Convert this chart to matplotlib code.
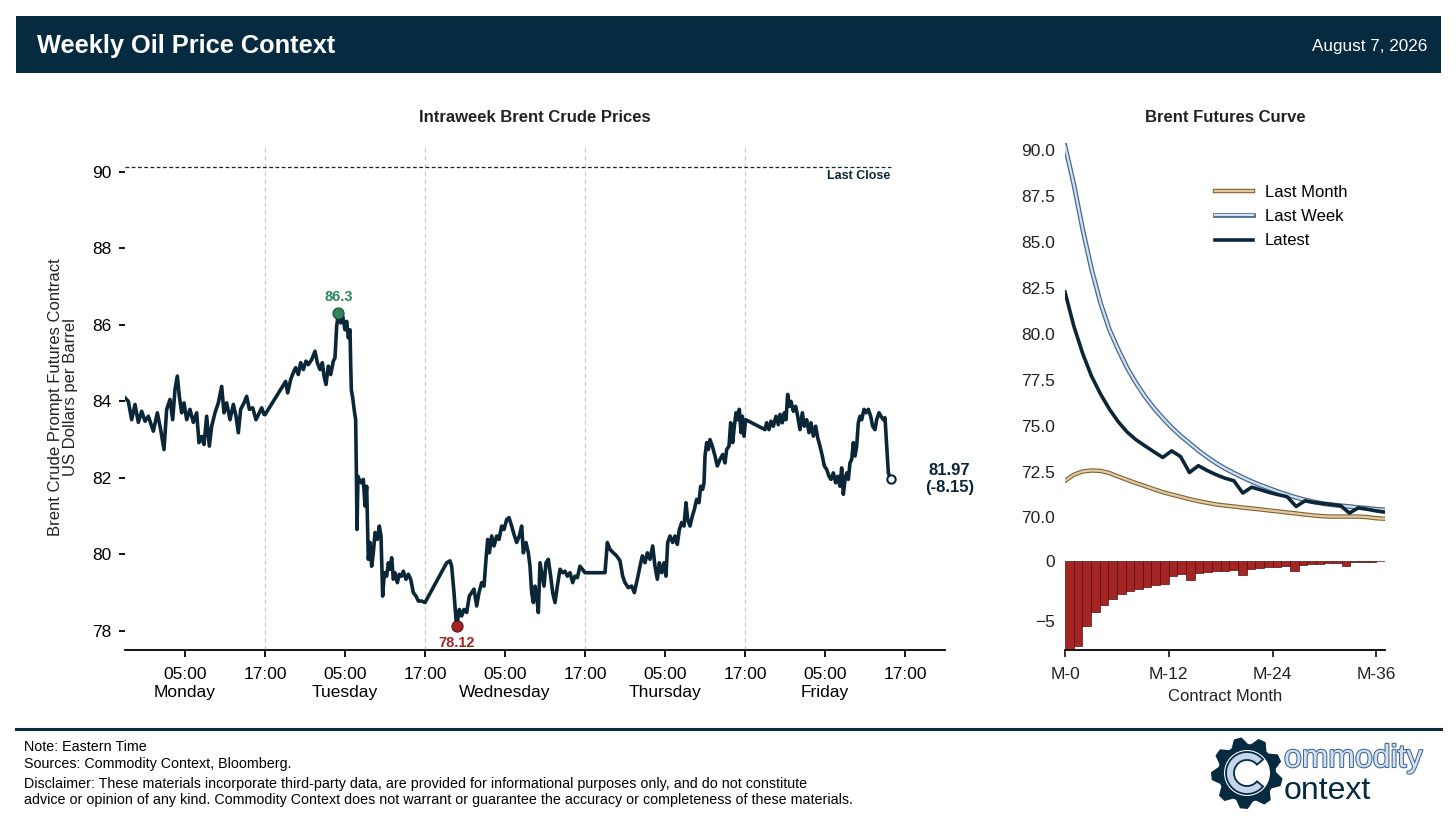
import numpy as np
import matplotlib
matplotlib.use('Agg')
import matplotlib.pyplot as plt
import matplotlib.patheffects as pe
from matplotlib.patches import Rectangle, Polygon, Circle, Wedge
from matplotlib.lines import Line2D

plt.rcParams['font.family'] = ['Liberation Sans', 'DejaVu Sans']
plt.rcParams['axes.unicode_minus'] = True

W, H = 1456, 831
NAVY = '#0b2637'
HEADER = '#062a40'
GREEN = '#2e8659'
RED = '#a52525'

# ---------------- data ----------------
# intraweek Brent prompt price: hours since Monday 00:00 (Eastern) and price (USD/bbl)
hours = [-4.0, -3.5, -3.0, -2.5, -2.0, -1.5, -1.0, -0.5, 0.25, 0.85, 1.35, 1.85, 2.25, 2.75, 3.15, 3.5,
         3.85, 4.15, 4.5, 4.85, 5.25, 5.75, 6.25, 6.75, 7.1, 7.5, 7.85, 8.25, 8.65, 9.0, 9.5, 10.0,
         10.5, 10.85, 11.25, 11.75, 12.25, 12.65, 13.0, 13.35, 13.85, 14.25, 14.65, 15.15, 15.65, 16.15,
         16.5, 16.85, 17.0,
         20.1, 20.4, 20.85, 21.25, 21.6, 22.0, 22.35, 22.75, 23.15, 23.5, 24.0, 24.5, 24.85, 25.25, 25.6,
         25.85, 26.15, 26.5, 26.85, 27.25, 27.5, 27.75, 28.0, 28.35, 28.65, 29.0, 29.25, 29.5, 29.75,
         29.85, 29.95, 30.15, 30.4, 30.6, 30.7, 30.8, 30.95, 31.25, 31.5, 31.75, 32.0, 32.25, 32.5, 32.75,
         33.0, 33.25, 33.5, 33.85, 34.15, 34.4, 34.65, 34.9, 35.25, 35.5, 35.75, 36.0, 36.25, 36.5, 36.85,
         37.15, 37.5, 37.75, 38.15, 38.5, 38.85, 39.25, 39.65, 40.0, 40.5, 41.0,
         44.25, 44.75, 45.0, 45.35, 45.65, 45.75, 46.15, 46.5, 46.85, 47.25, 47.65, 48.0, 48.35, 48.75,
         49.1, 49.5, 49.85, 50.15, 50.4, 50.65, 51.0, 51.35, 51.75, 52.1, 52.5, 52.85, 53.25, 53.6, 54.0,
         54.35, 54.75, 55.15, 55.5, 55.75, 56.15, 56.5, 56.75, 57.0, 57.25, 57.5, 57.75, 58.0, 58.25,
         58.5, 58.85, 59.15, 59.5, 59.85, 60.15, 60.5, 60.85, 61.25, 61.65, 62.0, 62.35, 62.75, 63.15,
         63.5, 63.85, 64.25, 64.6, 65.0,
         68.0, 68.35, 68.75, 69.25, 69.75, 70.25, 70.65, 71.0, 71.5, 72.0, 72.4, 72.85, 73.25, 73.6, 74.0,
         74.35, 74.75, 75.15, 75.5, 75.85, 76.15, 76.5, 76.85, 77.15, 77.4, 77.75, 78.15, 78.5, 78.85,
         79.15, 79.5, 79.85, 80.15, 80.4, 80.75, 81.1, 81.4, 81.75, 82.1, 82.35, 82.65, 82.85, 83.0,
         83.25, 83.5, 83.75, 84.1, 84.5, 84.85, 85.25, 85.65, 86.0, 86.25, 86.6, 86.85, 87.15, 87.4,
         87.65, 87.9, 88.15, 88.4, 88.6, 88.85, 89.1,
         92.0, 92.25, 92.6, 92.9, 93.25, 93.65, 94.0, 94.25, 94.6, 94.9, 95.15, 95.4, 95.65, 95.9, 96.25,
         96.6, 96.9, 97.25, 97.6, 97.9, 98.25, 98.6, 98.9, 99.25, 99.6, 99.9, 100.25, 100.6, 100.9,
         101.25, 101.6, 101.9, 102.25, 102.6, 102.9, 103.25, 103.5, 103.75, 104.0, 104.25, 104.5, 104.75,
         105.0, 105.25, 105.5, 105.75, 106.0, 106.25, 106.5, 106.85, 107.15, 107.5, 107.85, 108.15,
         108.5, 108.75, 109.1, 109.4, 109.75, 110.0, 110.25, 110.5, 110.85]
price = [84.09, 84.00, 83.52, 83.92, 83.45, 83.74, 83.48, 83.61, 83.22, 83.70, 83.26, 82.74, 83.79, 84.05,
         83.52, 84.31, 84.66, 84.13, 83.70, 83.96, 83.52, 83.79, 83.45, 83.70, 82.92, 83.08, 82.87, 83.61,
         82.83, 83.35, 83.70, 83.96, 84.39, 83.70, 83.96, 83.52, 83.92, 83.61, 83.18, 83.79, 83.96, 84.13,
         83.79, 83.83, 83.52, 83.70, 83.83, 83.66, 83.65,
         84.52, 84.22, 84.57, 84.75, 84.88, 84.70, 85.01, 84.83, 85.05, 84.96, 85.09, 85.31, 85.01, 84.83,
         85.01, 84.66, 84.44, 84.92, 84.70, 85.05, 85.14, 85.96, 86.30, 86.05, 86.22, 85.87, 86.09, 85.66,
         85.87, 85.00, 84.30, 84.10, 83.75, 83.52, 82.20, 80.65, 82.04, 81.90, 81.87, 81.96, 81.26, 81.78,
         79.87, 80.31, 79.69, 80.04, 80.57, 80.39, 80.74, 80.48, 78.91, 79.52, 79.43, 79.78, 79.61, 79.91,
         79.35, 79.52, 79.26, 79.48, 79.43, 79.56, 79.35, 79.48, 79.35, 79.00, 78.91, 78.78, 78.78, 78.74,
         79.78, 79.83, 79.69, 79.00, 78.30, 78.12, 78.56, 78.39, 78.56, 78.48, 78.91, 79.00, 79.09, 78.65,
         79.00, 79.26, 79.17, 79.87, 80.39, 80.04, 80.48, 80.22, 80.48, 80.39, 80.74, 80.65, 80.91, 80.96,
         80.74, 80.52, 80.31, 80.48, 80.74, 80.04, 80.31, 80.04, 79.69, 79.00, 78.74, 79.17, 78.91, 78.48,
         79.78, 79.52, 79.17, 79.78, 79.87, 79.43, 79.00, 78.74, 79.17, 79.61, 79.52, 79.56, 79.43, 79.52,
         79.26, 79.43, 79.39, 79.69, 79.61, 79.52,
         79.52, 80.31, 80.13, 80.04, 79.96, 79.83, 79.43, 79.26, 79.13, 79.17, 79.00, 79.35, 79.69, 79.96,
         79.78, 80.04, 79.87, 80.22, 79.69, 79.35, 79.78, 79.52, 79.78, 79.43, 80.31, 80.48, 80.31, 80.48,
         80.26, 80.65, 80.83, 80.74, 81.35, 80.91, 80.74, 81.00, 81.17, 81.44, 81.35, 81.78, 81.70, 81.87,
         82.57, 82.92, 82.74, 83.00, 82.83, 82.57, 82.31, 82.48, 82.61, 82.39, 82.74, 82.83, 83.44, 82.92,
         83.35, 83.70, 83.52, 83.79, 83.18, 83.61, 83.09, 83.52,
         83.26, 83.44, 83.26, 83.48, 83.35, 83.61, 83.39, 83.66, 83.44, 83.70, 83.52, 84.18, 83.87, 84.00,
         83.74, 83.87, 83.61, 83.26, 83.70, 83.35, 83.52, 83.18, 83.44, 83.09, 83.35, 83.05, 82.83, 82.57,
         82.31, 82.22, 82.04, 81.96, 82.13, 81.87, 82.04, 81.78, 82.26, 81.57, 81.96, 82.13, 81.96, 82.39,
         82.48, 82.92, 82.57, 82.83, 83.44, 83.61, 83.52, 83.79, 83.70, 83.79, 83.61, 83.35, 83.26, 83.52,
         83.70, 83.61, 83.52, 83.57, 82.83, 82.13, 81.97]

week_high = (28.0, 86.3)
week_low = (45.75, 78.12)
last_close = 90.12
latest_price = 81.97
weekly_change = -8.15

xtick_hours = [5, 17, 29, 41, 53, 65, 77, 89, 101, 113]
xtick_labels = ['05:00\nMonday', '17:00', '05:00\nTuesday', '17:00', '05:00\nWednesday', '17:00',
                '05:00\nThursday', '17:00', '05:00\nFriday', '17:00']
day_breaks = [17, 41, 65, 89]
ytick_left = [78, 80, 82, 84, 86, 88, 90]

# futures curve
months = list(range(37))
last_month = [72.00, 72.33, 72.51, 72.56, 72.54, 72.42, 72.23, 72.05, 71.87, 71.71, 71.54, 71.38,
              71.25, 71.13, 71.00, 70.89, 70.80, 70.71, 70.65, 70.60, 70.54, 70.49, 70.44, 70.38,
              70.33, 70.27, 70.22, 70.16, 70.11, 70.07, 70.05, 70.05, 70.05, 70.05, 70.02, 69.96, 69.93]
last_week = [90.25, 88.13, 85.68, 83.50, 81.68, 80.23, 79.14, 78.14, 77.32, 76.59, 75.96, 75.41,
             74.90, 74.45, 74.05, 73.65, 73.29, 72.96, 72.67, 72.42, 72.18, 71.96, 71.76, 71.58,
             71.40, 71.24, 71.09, 70.96, 70.85, 70.76, 70.69, 70.64, 70.60, 70.54, 70.51, 70.45, 70.42]
latest = [82.28, 80.41, 78.92, 77.68, 76.72, 75.90, 75.21, 74.65, 74.23, 73.90, 73.58, 73.27,
          73.63, 73.32, 72.45, 72.82, 72.56, 72.33, 72.14, 72.00, 71.33, 71.65, 71.51, 71.36,
          71.24, 71.13, 70.60, 70.91, 70.82, 70.76, 70.71, 70.65, 70.24, 70.53, 70.45, 70.36, 70.29]
weekly_diff = [-8.00, -7.07, -5.39, -4.28, -3.67, -3.18, -2.79, -2.51, -2.32, -2.13, -2.02, -1.88,
               -1.22, -1.10, -1.60, -1.00, -0.91, -0.86, -0.80, -0.75, -1.19, -0.66, -0.58, -0.50,
               -0.47, -0.44, -0.83, -0.33, -0.28, -0.22, -0.19, -0.17, -0.44, -0.11, -0.08, -0.06, -0.03]
curve_yticks = [70.0, 72.5, 75.0, 77.5, 80.0, 82.5, 85.0, 87.5, 90.0]
month_ticks = [0, 12, 24, 36]
month_labels = ['M-0', 'M-12', 'M-24', 'M-36']


def box(x0, y0, x1, y1):
    return [x0 / W, 1 - y1 / H, (x1 - x0) / W, (y1 - y0) / H]


fig = plt.figure(figsize=(W / 100, H / 100), dpi=100)
fig.patch.set_facecolor('white')

# ---------------- header ----------------
fig.add_artist(Rectangle((16 / W, 1 - 73 / H), (1441 - 16) / W, 57 / H, transform=fig.transFigure,
                         facecolor=HEADER, edgecolor='none'))
fig.text(37 / W, 1 - 46 / H, 'Weekly Oil Price Context', color='white', fontsize=18.3,
         fontweight='bold', va='center', ha='left')
fig.text(1427 / W, 1 - 46 / H, 'August 7, 2026', color='white', fontsize=12.3, va='center', ha='right')

# ---------------- left chart ----------------
ax = fig.add_axes(box(125, 145, 945, 650))
for x in day_breaks:
    ax.axvline(x, color='#c8c8c8', lw=0.8, ls=(0, (4, 3)), zorder=0)
ax.hlines(last_close, -4, hours[-1], colors=NAVY, linestyles=(0, (3, 2)), lw=0.9, zorder=1)
ax.annotate('Last Close', (hours[-1], last_close), xytext=(0, -2), textcoords='offset points',
            ha='right', va='top', fontsize=9, fontweight='bold', color=NAVY)
ax.plot(hours, price, color=NAVY, lw=2.6, zorder=3)
ax.plot(*week_high, 'o', ms=8, mfc=GREEN, mec='#1d4d36', mew=0.8, zorder=4)
ax.annotate(f'{week_high[1]}', week_high, xytext=(0, 7), textcoords='offset points', ha='center',
            va='bottom', fontsize=10.5, fontweight='bold', color=GREEN)
ax.plot(*week_low, 'o', ms=8, mfc=RED, mec='#5a1212', mew=0.8, zorder=4)
ax.annotate(f'{week_low[1]:.2f}', week_low, xytext=(0, -7), textcoords='offset points', ha='center',
            va='top', fontsize=10.5, fontweight='bold', color=RED)
ax.plot(hours[-1], latest_price, 'o', ms=6, mfc='white', mec=NAVY, mew=1.5, zorder=5)
ax.annotate(f'{latest_price:.2f}\n({weekly_change:.2f})', (hours[-1], latest_price), xytext=(42.5, 0),
            textcoords='offset points', ha='center', va='center', fontsize=12, fontweight='bold',
            color=NAVY, annotation_clip=False)
ax.set_xlim(-4, 119)
ax.set_ylim(77.5, 90.7)
ax.set_xticks(xtick_hours)
ax.set_xticklabels(xtick_labels)
ax.set_yticks(ytick_left)
for s in ['top', 'right', 'left']:
    ax.spines[s].set_visible(False)
ax.spines['bottom'].set_linewidth(1.3)
ax.spines['bottom'].set_color('black')
ax.tick_params(axis='x', length=5, width=1.3, labelsize=12.5, pad=7.5, colors='black')
ax.tick_params(axis='y', length=4.5, width=1.3, labelsize=12.5, pad=5, colors='black')
ax.set_ylabel('Brent Crude Prompt Futures Contract\nUS Dollars per Barrel', fontsize=12,
              linespacing=1.0, color='#222222')
ax.yaxis.set_label_coords(-0.057, 0.5)
fig.text(535 / W, 1 - 117 / H, 'Intraweek Brent Crude Prices', fontsize=12, fontweight='bold',
         ha='center', va='center', color='#222222')

# ---------------- right upper chart ----------------
ax2 = fig.add_axes(box(1065, 143, 1385, 523))
ax2.plot(months, last_month, color='#e2cba0', lw=1.6, label='Last Month',
         path_effects=[pe.Stroke(linewidth=3.2, foreground='#7d6236'), pe.Normal()])
ax2.plot(months, last_week, color='#d2e1f2', lw=1.6, label='Last Week',
         path_effects=[pe.Stroke(linewidth=3.4, foreground='#46678a'), pe.Normal()])
ax2.plot(months, latest, color=NAVY, lw=2.6, label='Latest')
ax2.set_xlim(0, 36)
ax2.set_ylim(69.7, 90.4)
ax2.set_yticks(curve_yticks)
ax2.set_yticklabels([f'{v:.1f}' for v in curve_yticks])
ax2.set_xticks([])
for s in ax2.spines.values():
    s.set_visible(False)
ax2.tick_params(axis='y', length=0, labelsize=12.5, pad=7, colors='#222222')
ax2.legend(loc='upper left', bbox_to_anchor=(1215 / W, 1 - 185 / H), bbox_transform=fig.transFigure,
           frameon=False, fontsize=12, handlelength=2.3, labelspacing=0.55, handletextpad=0.7,
           borderaxespad=0, borderpad=0)
fig.text(1225 / W, 1 - 117 / H, 'Brent Futures Curve', fontsize=12, fontweight='bold',
         ha='center', va='center', color='#222222')

# ---------------- right lower chart ----------------
ax3 = fig.add_axes(box(1065, 559, 1385, 650))
ax3.bar(months, weekly_diff, width=1.0, align='edge', color=RED, edgecolor='#4e0f0f', lw=0.5)
ax3.set_xlim(0, 37)
ax3.set_ylim(-7.42, 0.17)
ax3.set_yticks([0, -5])
ax3.set_xticks(month_ticks)
ax3.set_xticklabels(month_labels)
for s in ['top', 'right', 'left']:
    ax3.spines[s].set_visible(False)
ax3.spines['bottom'].set_linewidth(1.3)
ax3.tick_params(axis='y', length=0, labelsize=12.5, pad=7, colors='#222222')
ax3.tick_params(axis='x', length=5, width=1.3, labelsize=12.5, pad=7.5, colors='#222222')
ax3.set_xlabel('Contract Month', fontsize=12, labelpad=5, color='#222222')

# ---------------- footer ----------------
fig.add_artist(Line2D([16 / W, 1441 / W], [1 - 729 / H, 1 - 729 / H], color=HEADER, lw=2.2,
                      transform=fig.transFigure))
foot_kw = dict(fontsize=10.3, color='black', ha='left', va='center')
fig.text(24 / W, 1 - 747 / H, 'Note: Eastern Time', **foot_kw)
fig.text(24 / W, 1 - 764 / H, 'Sources: Commodity Context, Bloomberg.', **foot_kw)
fig.text(24 / W, 1 - 784 / H, 'Disclaimer: These materials incorporate third-party data, are provided for '
         'informational purposes only, and do not constitute', **foot_kw)
fig.text(24 / W, 1 - 800 / H, 'advice or opinion of any kind. Commodity Context does not warrant or '
         'guarantee the accuracy or completeness of these materials.', **foot_kw)

# ---------------- logo ----------------
lax = fig.add_axes(box(1200, 730, 1445, 826))
lax.set_xlim(1200, 1445)
lax.set_ylim(826, 730)
lax.axis('off')
cx, cy = 1247, 773
n_teeth = 9
ang = np.linspace(0, 2 * np.pi, n_teeth * 4, endpoint=False) + np.pi / n_teeth / 2
radii = np.tile([36, 36, 29, 29], n_teeth)
shift = np.tile([-0.12, 0.12, 0.2, -0.2], n_teeth) * (2 * np.pi / n_teeth) / 4
pts = np.column_stack([cx + radii * np.cos(ang + shift), cy + radii * np.sin(ang + shift)])
lax.add_patch(Polygon(pts, closed=True, facecolor=HEADER, edgecolor='none'))
lax.add_patch(Circle((cx, cy), 23, facecolor='white', edgecolor='none'))
lax.add_patch(Wedge((cx, cy), 21, 40, 320, width=8, facecolor='#c3d6ec', edgecolor=HEADER, lw=1.3))
lax.text(1284, 767, 'ommodity', fontsize=23, color='#d3e2f3', va='baseline',
         path_effects=[pe.withStroke(linewidth=1.5, foreground='#3e6490')])
lax.text(1284, 799, 'ontext', fontsize=23, color=HEADER, va='baseline')

fig.savefig('out.png', dpi=100)
